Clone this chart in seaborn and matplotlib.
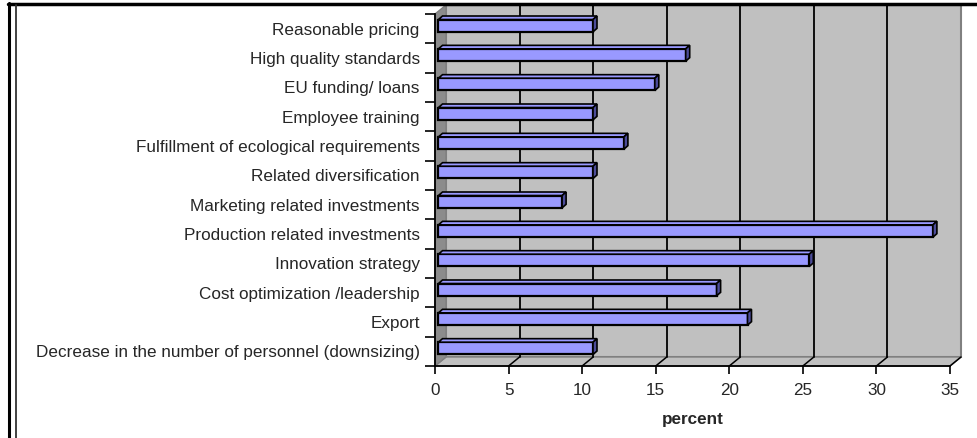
import matplotlib
matplotlib.use("Agg")
import matplotlib.pyplot as plt
from matplotlib.patches import Polygon, Rectangle
from matplotlib.lines import Line2D
import seaborn as sns

# survey answers, top to bottom as shown
categories = [
    "Reasonable pricing",
    "High quality standards",
    "EU funding/ loans",
    "Employee training",
    "Fulfillment of ecological requirements",
    "Related diversification",
    "Marketing related investments",
    "Production related investments",
    "Innovation strategy",
    "Cost optimization /leadership",
    "Export",
    "Decrease in the number of personnel (downsizing)",
]
percent = [10.5, 16.8, 14.7, 10.5, 12.6, 10.5, 8.4, 33.6, 25.2, 18.9, 21.0, 10.5]
xticks = [0, 5, 10, 15, 20, 25, 30, 35]

sns.set_style("white")
plt.rcParams["font.family"] = ["Liberation Sans", "DejaVu Sans"]

W, H = 978, 438
fig = plt.figure(figsize=(W / 100, H / 100), dpi=100)

# front plane of the pseudo-3D plot, in pixels
x0, x1, ytop, ybot = 435, 950, 14, 366
ax = fig.add_axes([x0 / W, (H - ybot) / H, (x1 - x0) / W, (ybot - ytop) / H])

n = len(categories)
xmax = 35
pxx = (x1 - x0) / xmax          # pixels per percent
pxy = (ybot - ytop) / n         # pixels per category
dx, dy = 11 / pxx, 9 / pxy      # wall depth in data units
bx, by = 3.5 / pxx, 3 / pxy     # bar front face set back
cx, cy = 4 / pxx, 3.5 / pxy     # bar depth

wall = "#c0c0c0"
edge = "#808080"
yb, yt = n - 0.5, -0.5

sns.barplot(x=percent, y=categories, orient="h", color="#9999ff", saturation=1,
            edgecolor="black", linewidth=1.6, width=0.42, ax=ax, zorder=3)
bars = list(ax.patches)

# back wall
ax.add_patch(Rectangle((dx, yt - dy), xmax, n, facecolor=wall, edgecolor=edge,
                       lw=1.5, clip_on=False, zorder=0))
# floor
ax.add_patch(Polygon([(0, yb), (xmax, yb), (xmax + dx, yb - dy), (dx, yb - dy)],
                     facecolor=wall, edgecolor=edge, lw=1, clip_on=False, zorder=0.5))
# side wall
ax.add_patch(Polygon([(0, yb), (0, yt), (dx, yt - dy), (dx, yb - dy)],
                     facecolor="#8c8c8c", edgecolor=edge, lw=1, clip_on=False, zorder=0.5))

# gridlines on the back wall and the floor
for v in xticks[1:-1]:
    ax.plot([v + dx, v + dx], [yb - dy, yt - dy], color="black", lw=1.3,
            clip_on=False, zorder=0.6)
for v in xticks[1:]:
    ax.plot([v, v + dx], [yb, yb - dy], color="black", lw=1.1,
            clip_on=False, zorder=0.6)

for p in bars:
    p.set_x(p.get_x() + bx)
    p.set_y(p.get_y() - by)
    xl, yl = p.get_x(), p.get_y()
    w, h = p.get_width(), p.get_height()
    xr = xl + w
    ax.add_patch(Polygon([(xl, yl), (xr, yl), (xr + cx, yl - cy), (xl + cx, yl - cy)],
                         facecolor="#9999ff", edgecolor="black", lw=1.2, zorder=3))
    ax.add_patch(Polygon([(xr, yl), (xr, yl + h), (xr + cx, yl + h - cy), (xr + cx, yl - cy)],
                         facecolor="#4c4c99", edgecolor="black", lw=1.2, zorder=3))

ax.set_xlim(0, xmax)
ax.set_ylim(yb, yt)
ax.set_xticks(xticks)
ax.set_xticklabels([str(t) for t in xticks], fontsize=12.3)
ax.set_yticks(range(n))
ax.set_yticklabels(categories, fontsize=12.3)
ax.set_yticks([i - 0.5 for i in range(n + 1)], minor=True)
ax.tick_params(axis="y", which="major", length=0, pad=11)
ax.tick_params(axis="y", which="minor", length=7, width=1.2, color="black", left=True)
ax.tick_params(axis="x", length=6, width=1.2, color="black", bottom=True, pad=6)
ax.set_xlabel("percent", fontsize=12.3, fontweight="bold", labelpad=10)
ax.set_ylabel("")
ax.set_facecolor("none")
for s in ["top", "right"]:
    ax.spines[s].set_visible(False)
for s in ["left", "bottom"]:
    ax.spines[s].set_color("black")
    ax.spines[s].set_linewidth(1.3)

# frame of the surrounding chart area
def px(x, y):
    return x / 100, (H - y) / 100

fig.add_artist(Line2D(*zip(px(8, 4), px(W, 4)), color="black", lw=2.5,
                      transform=fig.dpi_scale_trans))
fig.add_artist(Line2D(*zip(px(9, 3), px(9, H)), color="black", lw=2.2,
                      transform=fig.dpi_scale_trans))
fig.add_artist(Line2D(*zip(px(15.5, 5), px(15.5, H)), color="#333333", lw=1.3,
                      transform=fig.dpi_scale_trans))

fig.savefig("out.png", dpi=100)
